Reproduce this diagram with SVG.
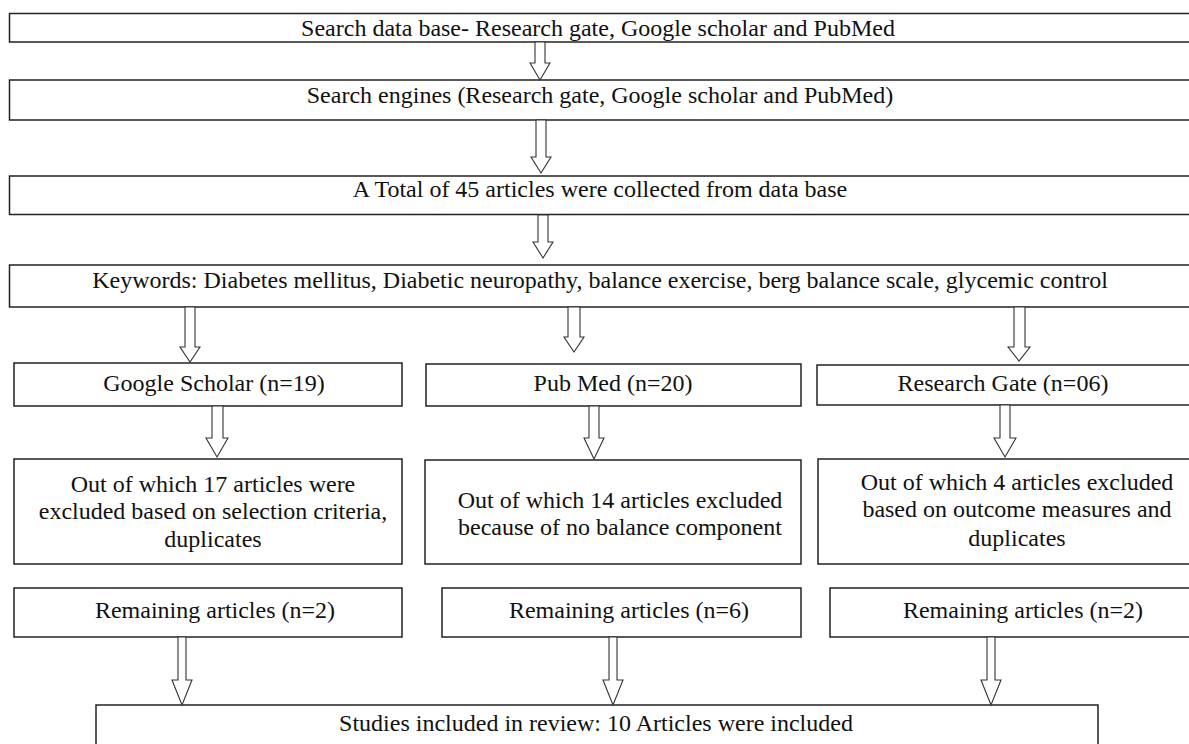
<svg xmlns="http://www.w3.org/2000/svg" width="1189" height="744" viewBox="0 0 1189 744">
<style>
.box{fill:#fff;stroke:#222;stroke-width:1.5}
.arr{fill:#fff;stroke:#333;stroke-width:1.1;stroke-linejoin:miter}
.t{font-size:24px;fill:#111;text-anchor:middle}
</style>
<rect width="1189" height="744" fill="#fff"/>
<g font-family="Liberation Serif, Times New Roman, DejaVu Serif, serif" class="t">
<g id="n1"><rect class="box" x="9.5" y="13.5" width="1181" height="28.5"/><text x="598" y="36">Search data base- Research gate, Google scholar and PubMed</text></g>
<g id="n2"><rect class="box" x="9.5" y="80" width="1181" height="40"/><text x="600" y="103">Search engines (Research gate, Google scholar and PubMed)</text></g>
<g id="n3"><rect class="box" x="9.5" y="176" width="1181" height="38.5"/><text x="600" y="197">A Total of 45 articles were collected from data base</text></g>
<g id="n4"><rect class="box" x="9.5" y="265" width="1181" height="42"/><text x="600" y="288">Keywords: Diabetes mellitus, Diabetic neuropathy, balance exercise, berg balance scale, glycemic control</text></g>
<g id="g5"><rect class="box" x="14" y="363" width="388" height="43"/><text x="214" y="391">Google Scholar (n=19)</text></g>
<g id="p5"><rect class="box" x="426" y="364" width="375" height="42"/><text x="613" y="391">Pub Med (n=20)</text></g>
<g id="r5"><rect class="box" x="817" y="365" width="374" height="40"/><text x="1003" y="391">Research Gate (n=06)</text></g>
<g id="g6"><rect class="box" x="14" y="459" width="388" height="105"/><text x="213" y="492">Out of which 17 articles were</text><text x="213" y="519">excluded based on selection criteria,</text><text x="213" y="547">duplicates</text></g>
<g id="p6"><rect class="box" x="425" y="460" width="376" height="104"/><text x="620" y="508">Out of which 14 articles excluded</text><text x="620" y="535">because of no balance component</text></g>
<g id="r6"><rect class="box" x="818" y="459" width="373" height="105"/><text x="1017" y="490">Out of which 4 articles excluded</text><text x="1017" y="517">based on outcome measures and</text><text x="1017" y="546">duplicates</text></g>
<g id="g7"><rect class="box" x="14" y="588" width="388" height="49"/><text x="215" y="618">Remaining articles (n=2)</text></g>
<g id="p7"><rect class="box" x="442" y="588" width="359" height="49"/><text x="629" y="618">Remaining articles (n=6)</text></g>
<g id="r7"><rect class="box" x="830" y="588" width="361" height="49"/><text x="1023" y="618">Remaining articles (n=2)</text></g>
<g id="n8"><rect class="box" x="96" y="705" width="1002" height="50"/><text x="596" y="731">Studies included in review: 10 Articles were included</text></g>
</g>
<g id="connectors">
<path class="arr" d="M535 42 L545 42 L545 63 L550 63 L540 80 L530 63 L535 63 Z"/>
<path class="arr" d="M536 120 L546 120 L546 157 L551 157 L541 173 L531 157 L536 157 Z"/>
<path class="arr" d="M538 215 L548 215 L548 242 L553 242 L543 258 L533 242 L538 242 Z"/>
<path class="arr" d="M185 307 L195 307 L195 347 L200 347 L190 362 L180 347 L185 347 Z"/>
<path class="arr" d="M568 307 L580 307 L580 337 L584 337 L574 352 L564 337 L568 337 Z"/>
<path class="arr" d="M1014 307 L1025 307 L1025 347 L1030 347 L1019 361 L1008 347 L1014 347 Z"/>
<path class="arr" d="M212 406 L223 406 L223 438 L228 438 L217 457 L206 438 L212 438 Z"/>
<path class="arr" d="M589 406 L599 406 L599 438 L604 438 L594 459 L584 438 L589 438 Z"/>
<path class="arr" d="M1000 405 L1010 405 L1010 438 L1016 438 L1005 457 L994 438 L1000 438 Z"/>
<path class="arr" d="M178 637 L186 637 L186 680 L192 680 L182 705 L172 680 L178 680 Z"/>
<path class="arr" d="M609 637 L617 637 L617 680 L623 680 L613 705 L603 680 L609 680 Z"/>
<path class="arr" d="M987 637 L995 637 L995 680 L1001 680 L991 705 L981 680 L987 680 Z"/>
</g>
</svg>
